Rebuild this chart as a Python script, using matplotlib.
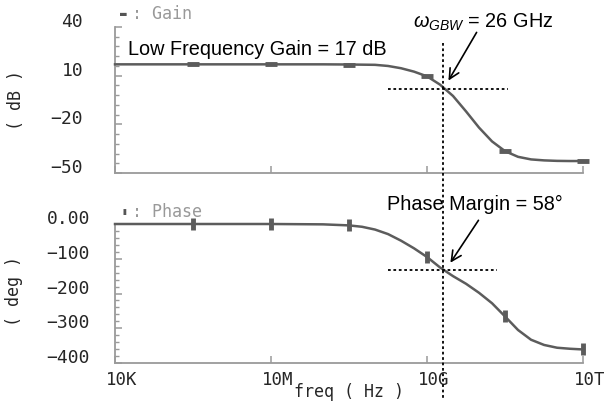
import matplotlib
matplotlib.use('Agg')
import matplotlib.pyplot as plt
import matplotlib.transforms as mtransforms
from matplotlib.lines import Line2D
import numpy as np

# frequency points as log10(Hz); markers sit every 1.5 decades
log_freq = [4.0, 5.5, 7.0, 8.0, 8.5, 8.75, 9.0, 9.25, 9.5, 9.75, 10.0, 10.25,
            10.5, 10.75, 11.0, 11.25, 11.5, 11.75, 12.0, 12.25, 12.5, 12.75, 13.0]
gain_db = [17.0, 17.0, 17.0, 17.0, 16.9, 16.8, 16.7, 16.0, 14.6, 12.5, 9.6, 4.5,
           -2.5, -12.0, -22.0, -30.5, -36.5, -40.0, -41.6, -42.2, -42.5, -42.6, -42.6]
phase_deg = [0.0, 0.0, 0.0, -1.0, -4.0, -8.0, -16.0, -29.0, -48.0, -70.0, -95.0, -125.0,
             -150.0, -172.0, -198.0, -228.0, -266.0, -305.0, -333.0, -348.0, -356.0, -359.0, -361.0]
marker_log_freq = [5.5, 7.0, 8.5, 10.0, 11.5, 13.0]

gain_ticks = [40, 10, -20, -50]
phase_ticks = [0, -100, -200, -300, -400]
phase_tick_labels = ['0.00', '\u2212100', '\u2212200', '\u2212300', '\u2212400']
freq_ticks = [1e4, 1e7, 1e10, 1e13]
freq_tick_labels = ['10K', '10M', '10G', '10T']

# crossover guide lines
gbw_freq = 2.0e10
cross_gain = 2.0
cross_phase = -132.0
guide_span_top = (10 ** 9.25, 10 ** 11.56)
guide_span_bot = (10 ** 9.25, 10 ** 11.35)

freq = 10 ** np.array(log_freq)
mark_idx = [log_freq.index(v) for v in marker_log_freq]

CURVE = '#5c5c5c'
SPINE = '#9a9a9a'
TXT = '#262626'
MONO = ['DejaVu Sans Mono', 'DejaVu Sans']
ANNO_FS = 14.3

plt.rcParams['mathtext.fontset'] = 'custom'
plt.rcParams['mathtext.rm'] = 'Liberation Sans'
plt.rcParams['mathtext.it'] = 'Liberation Sans:italic'

fig = plt.figure(figsize=(6.06, 4.12), dpi=100)
ax1 = fig.add_axes([0.1898, 0.580, 0.7723, 0.3544])
ax2 = fig.add_axes([0.1898, 0.1189, 0.7723, 0.3374])

ax1.plot(freq, gain_db, color=CURVE, lw=1.8, marker='_', ms=8, mew=3.5,
         markevery=mark_idx, clip_on=False, zorder=3)
ax2.plot(freq, phase_deg, color=CURVE, lw=1.8, marker='|', ms=8, mew=3.5,
         markevery=mark_idx, clip_on=False, zorder=3)

for ax in (ax1, ax2):
    ax.set_xscale('log')
    ax.set_xlim(1e4, 1e13)
    for s in ('top', 'right'):
        ax.spines[s].set_visible(False)
    for s in ('left', 'bottom'):
        ax.spines[s].set_color(SPINE)
        ax.spines[s].set_linewidth(1.3)
    ax.set_xticks(freq_ticks)
    ax.xaxis.set_minor_locator(matplotlib.ticker.NullLocator())
    ax.tick_params(axis='both', which='both', direction='in', color=SPINE,
                   labelcolor=TXT)
    ax.tick_params(axis='both', which='major', length=5, width=1.1)
    ax.tick_params(axis='y', which='minor', length=3, width=1.0)

ax1.set_ylim(-50, 40)
ax1.set_yticks(gain_ticks)
ax1.set_yticklabels([str(t).replace('-', '\u2212') for t in gain_ticks])
ax1.set_yticks(np.arange(-50, 41, 6), minor=True)
ax1.set_xticklabels([])
ax1.tick_params(axis='y', which='major', pad=23)

ax2.set_ylim(-400, 0)
ax2.set_yticks(phase_ticks)
ax2.set_yticklabels(phase_tick_labels)
ax2.set_yticks(np.arange(-400, 1, 20), minor=True)
ax2.set_xticklabels(freq_tick_labels)
ax2.tick_params(axis='y', which='major', pad=18)
ax2.tick_params(axis='x', which='major', pad=6)

for ax in (ax1, ax2):
    for lbl in ax.get_yticklabels():
        lbl.set_family(MONO)
        lbl.set_fontsize(13)
        lbl.set_va('baseline')

shift = mtransforms.ScaledTranslation(0.065, 0, fig.dpi_scale_trans)
for lbl in ax2.get_xticklabels():
    lbl.set_family(MONO)
    lbl.set_fontsize(12.5)
    lbl.set_transform(lbl.get_transform() + shift)

ax1.set_ylabel('( dB )', family=MONO, fontsize=12, color=TXT)
ax2.set_ylabel('( deg )', family=MONO, fontsize=12, color=TXT)
ax1.yaxis.set_label_coords(-0.192, 0.5)
ax2.yaxis.set_label_coords(-0.196, 0.52)
ax2.set_xlabel('freq ( Hz )', family=MONO, fontsize=12, color=TXT, labelpad=-4.5)

# series legends
fig.text(0.198, 0.966, '\u25ac', family=MONO, fontsize=8, color='#555555', va='center')
fig.text(0.218, 0.966, ': Gain', family=MONO, fontsize=12, color='#999999', va='center')
fig.text(0.200, 0.485, '\u25ae', family=MONO, fontsize=7, color='#555555', va='center')
fig.text(0.218, 0.485, ': Phase', family=MONO, fontsize=12, color='#999999', va='center')

# annotations
fig.text(128 / 606, 1 - 55 / 412, 'Low Frequency Gain = 17 dB', family='Liberation Sans',
         fontsize=ANNO_FS, color='black', va='baseline')
fig.text(413 / 606, 1 - 28 / 412, r'$\omega_{GBW}$ = 26 GHz', family='Liberation Sans',
         fontsize=ANNO_FS, color='black', va='baseline')
fig.text(387 / 606, 1 - 210 / 412, 'Phase Margin = 58\u00b0', family='Liberation Sans',
         fontsize=ANNO_FS, color='black', va='baseline')

arrow = dict(arrowstyle='->', color='black', lw=1.2, mutation_scale=18)
ax1.annotate('', xy=(10 ** 10.385, 5.5), xycoords='data',
             xytext=(478 / 606, 1 - 30 / 412), textcoords='figure fraction',
             arrowprops=arrow, annotation_clip=False)
ax2.annotate('', xy=(10 ** 10.42, -118), xycoords='data',
             xytext=(480 / 606, 1 - 218 / 412), textcoords='figure fraction',
             arrowprops=arrow, annotation_clip=False)

# crossover guides
dot = dict(color='black', lw=1.3, ls=(0, (1.5, 1.5)))
ax1.plot(guide_span_top, [cross_gain, cross_gain], **dot, zorder=4)
ax2.plot(guide_span_bot, [cross_phase, cross_phase], **dot, zorder=4)
vtrans = mtransforms.blended_transform_factory(ax1.transData, fig.transFigure)
fig.add_artist(Line2D([gbw_freq, gbw_freq], [1 - 43 / 412, 1 - 398 / 412],
                      transform=vtrans, **dot))

fig.savefig('out.png', dpi=100)
